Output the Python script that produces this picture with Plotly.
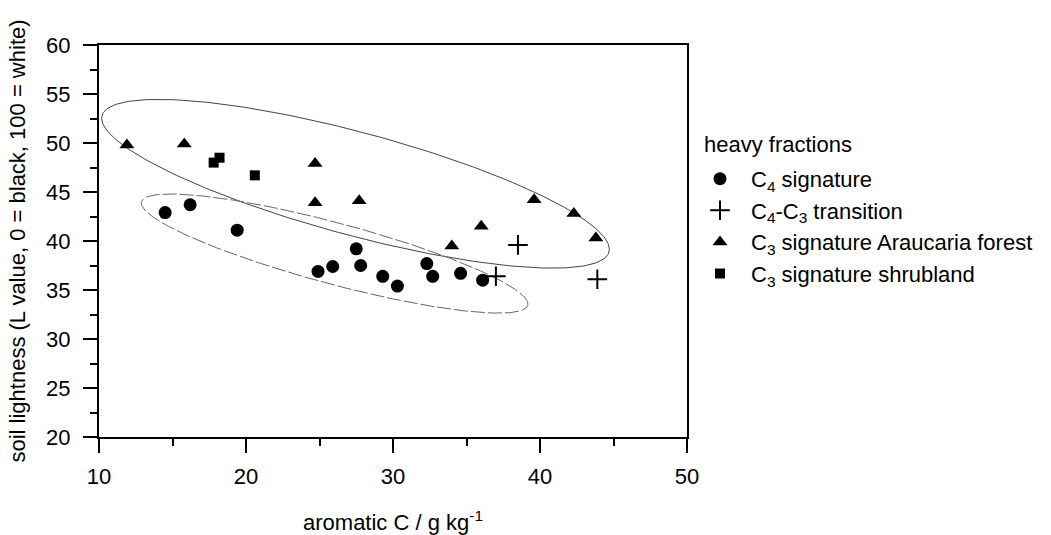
import numpy as np
import plotly.graph_objects as go

# ---- data ----
c4_x = [14.5, 16.2, 19.4, 24.9, 25.9, 27.5, 27.8, 29.3, 30.3, 32.3, 32.7, 34.6, 36.1]
c4_y = [42.9, 43.7, 41.1, 36.9, 37.4, 39.2, 37.5, 36.4, 35.4, 37.7, 36.4, 36.7, 36.0]

trans_x = [37.0, 38.5, 43.9]
trans_y = [36.4, 39.6, 36.1]

arau_x = [11.9, 15.8, 24.7, 24.7, 27.7, 34.0, 36.0, 39.6, 42.3, 43.8]
arau_y = [49.8, 49.9, 47.9, 43.9, 44.1, 39.5, 41.5, 44.2, 42.8, 40.3]

shrub_x = [17.8, 18.2, 20.6]
shrub_y = [48.0, 48.5, 46.7]

series_names = ["C<sub>4</sub> signature",
                "C<sub>4</sub>-C<sub>3</sub> transition",
                "C<sub>3</sub> signature Araucaria forest",
                "C<sub>3</sub> signature shrubland"]
legend_title = "heavy fractions"

# ellipse parameters (data units): centre, x-amplitude, y cos / sin amplitudes
upper_ell = dict(cx=27.45, ax=17.27, cy=45.84, ay=-6.68, by=5.43)
lower_ell = dict(cx=26.03, ax=13.15, cy=38.72, ay=-5.15, by=3.23)

x_ticks = [10, 20, 30, 40, 50]
y_ticks = [20, 25, 30, 35, 40, 45, 50, 55, 60]

FONT = "Liberation Sans, Arial, sans-serif"

def ellipse(p, n=300):
    t = np.linspace(0, 2 * np.pi, n)
    return p["cx"] + p["ax"] * np.cos(t), p["cy"] + p["ay"] * np.cos(t) + p["by"] * np.sin(t)

fig = go.Figure()

ux, uy = ellipse(upper_ell)
fig.add_trace(go.Scatter(x=ux, y=uy, mode="lines", showlegend=False, hoverinfo="skip",
                         line=dict(color="#444444", width=1)))
lx, ly = ellipse(lower_ell)
fig.add_trace(go.Scatter(x=lx, y=ly, mode="lines", showlegend=False, hoverinfo="skip",
                         line=dict(color="#666666", width=1, dash="14px,3px")))

fig.add_trace(go.Scatter(x=c4_x, y=c4_y, mode="markers", name=series_names[0],
                         marker=dict(symbol="circle", size=13, color="black")))
fig.add_trace(go.Scatter(x=trans_x, y=trans_y, mode="markers", name=series_names[1],
                         marker=dict(symbol="cross-thin", size=14, color="black",
                                     line=dict(color="black", width=2))))
fig.add_trace(go.Scatter(x=arau_x, y=arau_y, mode="markers", name=series_names[2],
                         marker=dict(symbol="triangle-up", size=13, color="black")))
fig.add_trace(go.Scatter(x=shrub_x, y=shrub_y, mode="markers", name=series_names[3],
                         marker=dict(symbol="square", size=10, color="black")))

axis_common = dict(showline=True, linecolor="black", linewidth=2, mirror=True,
                   showgrid=False, zeroline=False, ticks="outside", ticklen=14,
                   tickwidth=2, tickcolor="black", automargin=False,
                   tickfont=dict(family=FONT, size=22, color="black"))

fig.update_xaxes(range=[10, 50], tickvals=x_ticks, ticktext=[str(v) for v in x_ticks],
                 minor=dict(dtick=5, tick0=10, ticklen=7, tickwidth=2, tickcolor="black", ticks="outside"),
                 title=dict(text="aromatic C / g kg<sup>-1</sup>", standoff=32,
                            font=dict(family=FONT, size=22, color="black")),
                 ticklabelstandoff=5, **axis_common)
fig.update_yaxes(range=[20, 60], tickvals=y_ticks, ticktext=[str(v) for v in y_ticks],
                 minor=dict(dtick=2.5, tick0=20, ticklen=7, tickwidth=2, tickcolor="black", ticks="outside"),
                 title=dict(text="soil lightness (L value, 0 = black, 100 = white)", standoff=14,
                            font=dict(family=FONT, size=22, color="black")),
                 ticklabelstandoff=8, **axis_common)

fig.add_annotation(text=legend_title, xref="paper", yref="paper", x=1.0255, y=0.745,
                   xanchor="left", yanchor="middle", showarrow=False,
                   font=dict(family=FONT, size=22, color="black"))

fig.update_layout(
    width=1051, height=535,
    margin=dict(l=99, r=364, t=45, b=98, autoexpand=False),
    paper_bgcolor="white", plot_bgcolor="white",
    font=dict(family=FONT, size=22, color="black"),
    legend=dict(x=1.0034, y=0.712, xanchor="left", yanchor="top", itemwidth=52,
                font=dict(family=FONT, size=22, color="black"),
                tracegroupgap=0, bgcolor="rgba(0,0,0,0)"),
)

fig.write_html("out.html")
